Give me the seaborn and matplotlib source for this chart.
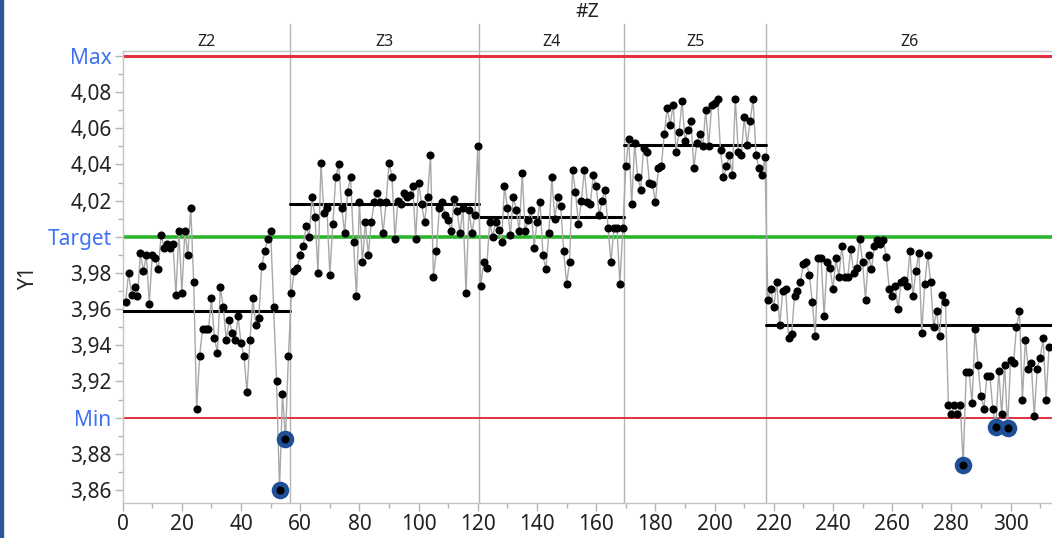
import numpy as np
import pandas as pd
import matplotlib
matplotlib.use("Agg")
import matplotlib.pyplot as plt
import matplotlib.transforms as mtransforms
from matplotlib.ticker import FixedLocator, MultipleLocator
import seaborn as sns

# ---------------- data ----------------
group_names = ["Z2", "Z3", "Z4", "Z5", "Z6"]

z2 = [3.964, 3.980, 3.968, 3.972, 3.967, 3.991, 3.981, 3.990, 3.963, 3.990,
      3.988, 3.982, 4.001, 3.994, 3.996, 3.994, 3.996, 3.968, 4.003, 3.969,
      4.003, 3.990, 4.016, 3.975, 3.905, 3.934, 3.949, 3.949, 3.949, 3.966,
      3.944, 3.936, 3.972, 3.961, 3.943, 3.954, 3.947, 3.943, 3.956, 3.941,
      3.934, 3.914, 3.943, 3.966, 3.951, 3.955, 3.984, 3.992, 3.999, 4.003,
      3.961, 3.920, 3.860, 3.913, 3.888, 3.934]
z3 = [3.969, 3.981, 3.983, 3.990, 3.995, 4.006, 4.000, 4.022, 4.011, 3.980,
      4.041, 4.013, 4.016, 3.979, 4.007, 4.033, 4.040, 4.016, 4.002, 4.025,
      4.033, 3.997, 3.967, 4.019, 3.986, 4.008, 3.990, 4.008, 4.019, 4.024,
      4.019, 4.002, 4.019, 4.041, 4.033, 3.999, 4.020, 4.018, 4.024, 4.022,
      4.023, 4.028, 3.999, 4.030, 4.018, 4.008, 4.022, 4.045, 3.978, 3.992,
      4.016, 4.019, 4.012, 4.009, 4.003, 4.021, 4.014, 4.002, 4.016, 3.969,
      4.015, 4.002, 4.012, 4.050]
z4 = [3.973, 3.986, 3.983, 4.008, 4.000, 4.008, 4.004, 3.997, 4.028, 4.016,
      4.001, 4.022, 4.015, 4.003, 4.035, 4.003, 4.009, 4.015, 3.994, 4.008,
      4.019, 3.990, 3.982, 4.002, 4.033, 4.010, 4.022, 4.017, 3.992, 3.974,
      3.986, 4.037, 4.025, 4.007, 4.020, 4.037, 4.019, 4.018, 4.034, 4.028,
      4.012, 4.020, 4.026, 4.005, 3.986, 4.005, 4.005, 3.974, 4.005]
z5 = [4.039, 4.054, 4.018, 4.052, 4.033, 4.026, 4.049, 4.047, 4.030, 4.029,
      4.019, 4.038, 4.039, 4.057, 4.071, 4.062, 4.073, 4.047, 4.058, 4.075,
      4.053, 4.059, 4.064, 4.038, 4.052, 4.057, 4.050, 4.070, 4.050, 4.073,
      4.074, 4.076, 4.048, 4.033, 4.039, 4.045, 4.034, 4.076, 4.047, 4.045,
      4.066, 4.051, 4.064, 4.076, 4.045, 4.038, 4.034, 4.044]
z6 = [3.965, 3.971, 3.961, 3.975, 3.951, 3.970, 3.971, 3.944, 3.946, 3.967,
      3.970, 3.975, 3.985, 3.986, 3.979, 3.964, 3.945, 3.988, 3.988, 3.956,
      3.986, 3.983, 3.971, 3.988, 3.978, 3.995, 3.978, 3.978, 3.993, 3.980,
      3.983, 3.999, 3.986, 3.965, 3.990, 3.982, 3.995, 3.998, 3.996, 3.998,
      3.989, 3.971, 3.967, 3.973, 3.960, 3.975, 3.976, 3.973, 3.992, 3.967,
      3.981, 3.991, 3.947, 3.974, 3.990, 3.975, 3.950, 3.959, 3.945, 3.968,
      3.964, 3.907, 3.902, 3.907, 3.902, 3.907, 3.874, 3.925, 3.925, 3.908,
      3.949, 3.929, 3.912, 3.905, 3.923, 3.923, 3.905, 3.895, 3.926, 3.902,
      3.929, 3.894, 3.932, 3.930, 3.950, 3.959, 3.910, 3.943, 3.927, 3.930,
      3.901, 3.927, 3.933, 3.944, 3.910, 3.939]
group_means = [3.959, 4.018, 4.011, 4.051, 3.951]

spec_values = [3.90, 4.00, 4.10]
spec_labels = ["Min", "Target", "Max"]

y_ticks = [3.86, 3.88, 3.92, 3.94, 3.96, 3.98, 4.02, 4.04, 4.06, 4.08]
x_ticks = [0, 20, 40, 60, 80, 100, 120, 140, 160, 180, 200, 220, 240, 260, 280, 300]

# ---------------- build frame ----------------
groups = [z2, z3, z4, z5, z6]
vals, labs = [], []
for name, g in zip(group_names, groups):
    vals += g
    labs += [name] * len(g)
df = pd.DataFrame({"row": np.arange(1, len(vals) + 1), "Y1": vals, "Z": labs})

# ---------------- style ----------------
sns.set_style("white")
plt.rcParams["font.family"] = ["Noto Sans", "DejaVu Sans"]

fig = plt.figure(figsize=(10.52, 5.38), dpi=100)
ax = fig.add_axes([0.1166, 0.0651, 0.8834, 0.8407])

xmax = 314
ax.set_xlim(0, xmax)
ax.set_ylim(3.8528, 4.1029)

spec_min, spec_target, spec_max = spec_values
# spec lines
ax.axhline(spec_max, color="#e2303f", lw=2.2, zorder=2)
ax.axhline(spec_target, color="#2cb52c", lw=2.6, zorder=2)
ax.axhline(spec_min, color="#e2303f", lw=1.4, zorder=2)

# group boundaries
sizes = [len(g) for g in groups]
ends = np.cumsum(sizes)
bounds = [0] + [e + 0.5 for e in ends[:-1]] + [xmax]
trans = mtransforms.blended_transform_factory(ax.transData, ax.transAxes)
for b in bounds[1:-1]:
    ax.plot([b, b], [0, 1.059], transform=trans, color="#b4b4b4", lw=1.0,
            clip_on=False, zorder=1)
for i, name in enumerate(group_names):
    ax.text((bounds[i] + bounds[i + 1]) / 2, 1.019, name, transform=trans,
            ha="center", va="center", fontsize=11.5, color="#222222")

# group mean lines
for i, m in enumerate(group_means):
    ax.plot([bounds[i], bounds[i + 1]], [m, m], color="black", lw=2.2, zorder=3)

# connecting line + points
sns.lineplot(data=df, x="row", y="Y1", ax=ax, color="#a8a8a8", lw=1.0,
             zorder=4, estimator=None, sort=False)
out = df[df["Y1"] < spec_min]
sns.scatterplot(data=out, x="row", y="Y1", ax=ax, s=160, color="#1f4f96",
                edgecolor="#1f4f96", linewidth=0, zorder=5)
sns.scatterplot(data=df, x="row", y="Y1", ax=ax, s=34, color="black",
                edgecolor="black", linewidth=0, zorder=6)

# axes cosmetics
ax.set_xlabel("")
ax.set_ylabel("Y1", fontsize=15, labelpad=6)
pairs = [(v, f"{v:.2f}".replace(".", ",")) for v in y_ticks]
pairs += list(zip(spec_values, spec_labels))
pairs.sort(key=lambda p: p[0])
ax.yaxis.set_major_locator(FixedLocator([p[0] for p in pairs]))
ax.set_yticklabels([p[1] for p in pairs])
ax.yaxis.set_minor_locator(MultipleLocator(0.01))
ax.xaxis.set_major_locator(FixedLocator(x_ticks))
ax.set_xticklabels([str(v) for v in x_ticks])
ax.xaxis.set_minor_locator(MultipleLocator(10))

ax.tick_params(axis="both", which="major", labelsize=15, length=6,
               color="#b4b4b4", width=1.0, direction="out", pad=2,
               labelcolor="#222222")
ax.tick_params(axis="both", which="minor", length=3.5, color="#b4b4b4",
               width=1.0, direction="out")
ax.tick_params(axis="x", which="both", bottom=True)
ax.tick_params(axis="y", which="both", left=True)

blue = "#3f72f0"
for t, tk, p in zip(ax.get_yticklabels(), ax.yaxis.get_major_ticks(), pairs):
    if p[1] in spec_labels:
        t.set_color(blue)
        tk.tick1line.set_color(blue)

for side in ["left", "bottom", "top"]:
    ax.spines[side].set_color("#c4c4c4")
    ax.spines[side].set_linewidth(1.0)
ax.spines["right"].set_visible(False)

fig.text(587 / 1052, 1 - 12 / 538, "#Z", ha="center", va="center",
         fontsize=14, color="#222222")

# window border strip at left edge
fig.patches.append(plt.Rectangle((0, 0), 3 / 1052, 1, transform=fig.transFigure,
                                 color="#2b5797", zorder=10))

fig.savefig("out.png", dpi=100)
